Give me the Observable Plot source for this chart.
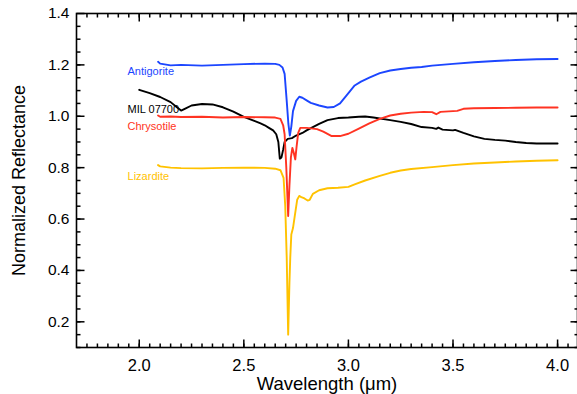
<!DOCTYPE html>
<html>
<head>
<meta charset="utf-8">
<script src="https://cdn.jsdelivr.net/npm/d3@7"></script>
<script src="https://cdn.jsdelivr.net/npm/@observablehq/plot@0.6"></script>
<style>
  html, body { margin: 0; padding: 0; background: #fff; overflow: hidden; }
  #chart svg { display: block; }
</style>
</head>
<body>
<div id="chart"></div>
<script>
// ---- Data ----
const antigoriteX = [2.09,2.10,2.15,2.20,2.30,2.40,2.50,2.60,2.65,2.67,2.685,2.695,2.705,2.713,2.72,2.727,2.735,2.75,2.765,2.78,2.80,2.82,2.86,2.90,2.93,2.96,3.00,3.03,3.06,3.10,3.15,3.20,3.25,3.30,3.35,3.40,3.50,3.60,3.70,3.80,3.90,4.00];
const antigoriteY = [1.212,1.205,1.198,1.200,1.197,1.200,1.203,1.205,1.204,1.200,1.190,1.165,1.060,0.970,0.925,0.960,1.020,1.060,1.076,1.072,1.062,1.052,1.042,1.034,1.036,1.050,1.090,1.120,1.135,1.150,1.168,1.178,1.184,1.189,1.192,1.197,1.204,1.210,1.215,1.219,1.222,1.223];

const milX = [2.00,2.05,2.10,2.15,2.18,2.20,2.22,2.25,2.30,2.35,2.40,2.45,2.50,2.55,2.58,2.60,2.62,2.64,2.655,2.665,2.672,2.68,2.688,2.695,2.71,2.73,2.75,2.78,2.80,2.83,2.86,2.90,2.95,3.00,3.05,3.08,3.12,3.20,3.25,3.30,3.35,3.40,3.42,3.43,3.45,3.50,3.51,3.55,3.60,3.65,3.70,3.75,3.80,3.85,3.90,4.00];
const milY = [1.103,1.090,1.075,1.055,1.035,1.022,1.030,1.042,1.048,1.046,1.035,1.018,0.998,0.982,0.972,0.965,0.955,0.945,0.930,0.900,0.835,0.840,0.870,0.900,0.912,0.915,0.925,0.935,0.945,0.958,0.970,0.985,0.993,0.995,0.998,0.999,0.995,0.985,0.978,0.970,0.958,0.955,0.951,0.956,0.948,0.945,0.947,0.935,0.922,0.912,0.908,0.905,0.900,0.896,0.894,0.894];

const chrysotileX = [2.09,2.10,2.15,2.20,2.30,2.40,2.50,2.60,2.65,2.675,2.688,2.695,2.703,2.712,2.718,2.725,2.732,2.738,2.746,2.752,2.76,2.77,2.80,2.85,2.88,2.92,2.96,3.00,3.05,3.10,3.15,3.20,3.25,3.30,3.36,3.40,3.42,3.44,3.50,3.52,3.55,3.60,3.70,3.80,3.90,4.00];
const chrysotileY = [1.003,0.998,0.999,0.997,0.998,0.995,0.997,0.996,0.995,0.990,0.965,0.930,0.800,0.612,0.730,0.840,0.877,0.860,0.832,0.880,0.935,0.955,0.955,0.950,0.940,0.923,0.923,0.932,0.952,0.972,0.990,1.003,1.010,1.014,1.017,1.016,1.008,1.017,1.020,1.021,1.029,1.031,1.032,1.033,1.034,1.034];

const lizarditeX = [2.09,2.10,2.15,2.20,2.30,2.40,2.50,2.60,2.65,2.675,2.69,2.698,2.705,2.712,2.718,2.722,2.727,2.735,2.745,2.755,2.765,2.775,2.79,2.805,2.815,2.83,2.86,2.90,2.95,3.00,3.03,3.08,3.15,3.20,3.25,3.30,3.40,3.50,3.60,3.70,3.80,3.90,4.00];
const lizarditeY = [0.810,0.805,0.800,0.798,0.797,0.799,0.800,0.799,0.796,0.790,0.760,0.650,0.450,0.150,0.350,0.450,0.540,0.565,0.620,0.675,0.690,0.685,0.680,0.672,0.675,0.698,0.712,0.720,0.722,0.725,0.735,0.750,0.768,0.780,0.789,0.795,0.802,0.810,0.816,0.820,0.824,0.827,0.829];

const seriesNames = ["Antigorite", "MIL 07700", "Chrysotile", "Lizardite"];
const seriesColors = ["#1c46ff", "#000000", "#ff3322", "#ffc200"];
const labelX = [1.944, 1.944, 1.944, 1.944];
const labelY = [1.174, 1.026, 0.960, 0.765];

const xMajorTicks = [2.0, 2.5, 3.0, 3.5, 4.0];
const xTickLabels = ["2.0", "2.5", "3.0", "3.5", "4.0"];
const xMinorTicks = d3.range(35, 82).map(i => i / 20);      // 1.75 ... 4.05
const yMajorTicks = [0.2, 0.4, 0.6, 0.8, 1.0, 1.2, 1.4];
const yTickLabels = ["0.2", "0.4", "0.6", "0.8", "1.0", "1.2", "1.4"];
const yMinorTicks = d3.range(2, 28).map(i => i / 20);       // 0.10 ... 1.35

const xTitle = "Wavelength (\u03bcm)";
const yTitle = "Normalized Reflectance";

// ---- Layout ----
const xDomain = [1.7, 4.1], yDomain = [0.1, 1.4];
const xRange = [76, 578], yRange = [347, 13];
const xPerPx = (xDomain[1] - xDomain[0]) / (xRange[1] - xRange[0]);
const yPerPx = (yDomain[1] - yDomain[0]) / (yRange[0] - yRange[1]);

// ---- Build tables ----
const seriesXs = [antigoriteX, milX, chrysotileX, lizarditeX];
const seriesYs = [antigoriteY, milY, chrysotileY, lizarditeY];
const rows = [];
seriesNames.forEach((name, i) => {
  seriesXs[i].forEach((x, j) => rows.push({series: name, x, y: seriesYs[i][j]}));
});
const labels = seriesNames.map((name, i) => ({name, x: labelX[i], y: labelY[i], color: seriesColors[i]}));

// inward-pointing ticks on all four sides (IDL style)
const tickSegs = [];
for (const [ticks, len] of [[xMinorTicks, 4], [xMajorTicks, 8]]) {
  for (const t of ticks) {
    tickSegs.push({x1: t, x2: t, y1: yDomain[0], y2: yDomain[0] + len * yPerPx});
    tickSegs.push({x1: t, x2: t, y1: yDomain[1], y2: yDomain[1] - len * yPerPx});
  }
}
for (const [ticks, len] of [[yMinorTicks, 4], [yMajorTicks, 8]]) {
  for (const t of ticks) {
    tickSegs.push({y1: t, y2: t, x1: xDomain[0], x2: xDomain[0] + len * xPerPx});
    tickSegs.push({y1: t, y2: t, x1: xDomain[1], x2: xDomain[1] - len * xPerPx});
  }
}

const chart = Plot.plot({
  width: 577,
  height: 394,
  marginLeft: 76,
  marginTop: 13,
  marginBottom: 47,
  marginRight: 0,
  style: {fontFamily: "'Liberation Sans', Arial, Helvetica, sans-serif", background: "#fff"},
  x: {domain: xDomain, range: xRange},
  y: {domain: yDomain, range: yRange},
  color: {domain: seriesNames, range: seriesColors},
  marks: [
    Plot.line(rows, {x: "x", y: "y", z: "series", stroke: "series", strokeWidth: 1.9, strokeLinejoin: "round"}),
    Plot.text(labels, {x: "x", y: "y", text: "name", fill: "color", textAnchor: "start", fontSize: 11}),
    Plot.axisX(xMajorTicks, {anchor: "bottom", tickSize: 0, tickPadding: 12, fontSize: 16.5, label: null,
      tickFormat: (d, i) => xTickLabels[i]}),
    Plot.axisY(yMajorTicks, {anchor: "left", tickSize: 0, tickPadding: 7, fontSize: 15.5, label: null,
      tickFormat: (d, i) => yTickLabels[i]}),
    Plot.text([xTitle], {frameAnchor: "bottom", dy: 37, textAnchor: "middle", lineAnchor: "middle", fontSize: 18.5, text: d => d}),
    Plot.text([yTitle], {frameAnchor: "left", dx: -57, rotate: -90, textAnchor: "middle", lineAnchor: "middle", fontSize: 18, text: d => d}),
    Plot.frame({stroke: "#000", strokeWidth: 1.6}),
    Plot.link(tickSegs, {x1: "x1", x2: "x2", y1: "y1", y2: "y2", stroke: "black", strokeWidth: 1.5, strokeOpacity: 1})
  ]
});
document.getElementById("chart").appendChild(chart);

// Fallback: if the tick links did not produce any path, draw them with the chart's own scales.
const linkGroup = chart.querySelector('g[aria-label="link"]');
if (!linkGroup || linkGroup.querySelectorAll("path,line").length === 0) {
  const sx = chart.scale("x"), sy = chart.scale("y");
  const g = d3.select(chart).append("g").attr("stroke", "black").attr("stroke-width", 1.5);
  for (const s of tickSegs) {
    g.append("line")
      .attr("x1", sx.apply(s.x1)).attr("x2", sx.apply(s.x2))
      .attr("y1", sy.apply(s.y1)).attr("y2", sy.apply(s.y2));
  }
}
</script>
</body>
</html>
